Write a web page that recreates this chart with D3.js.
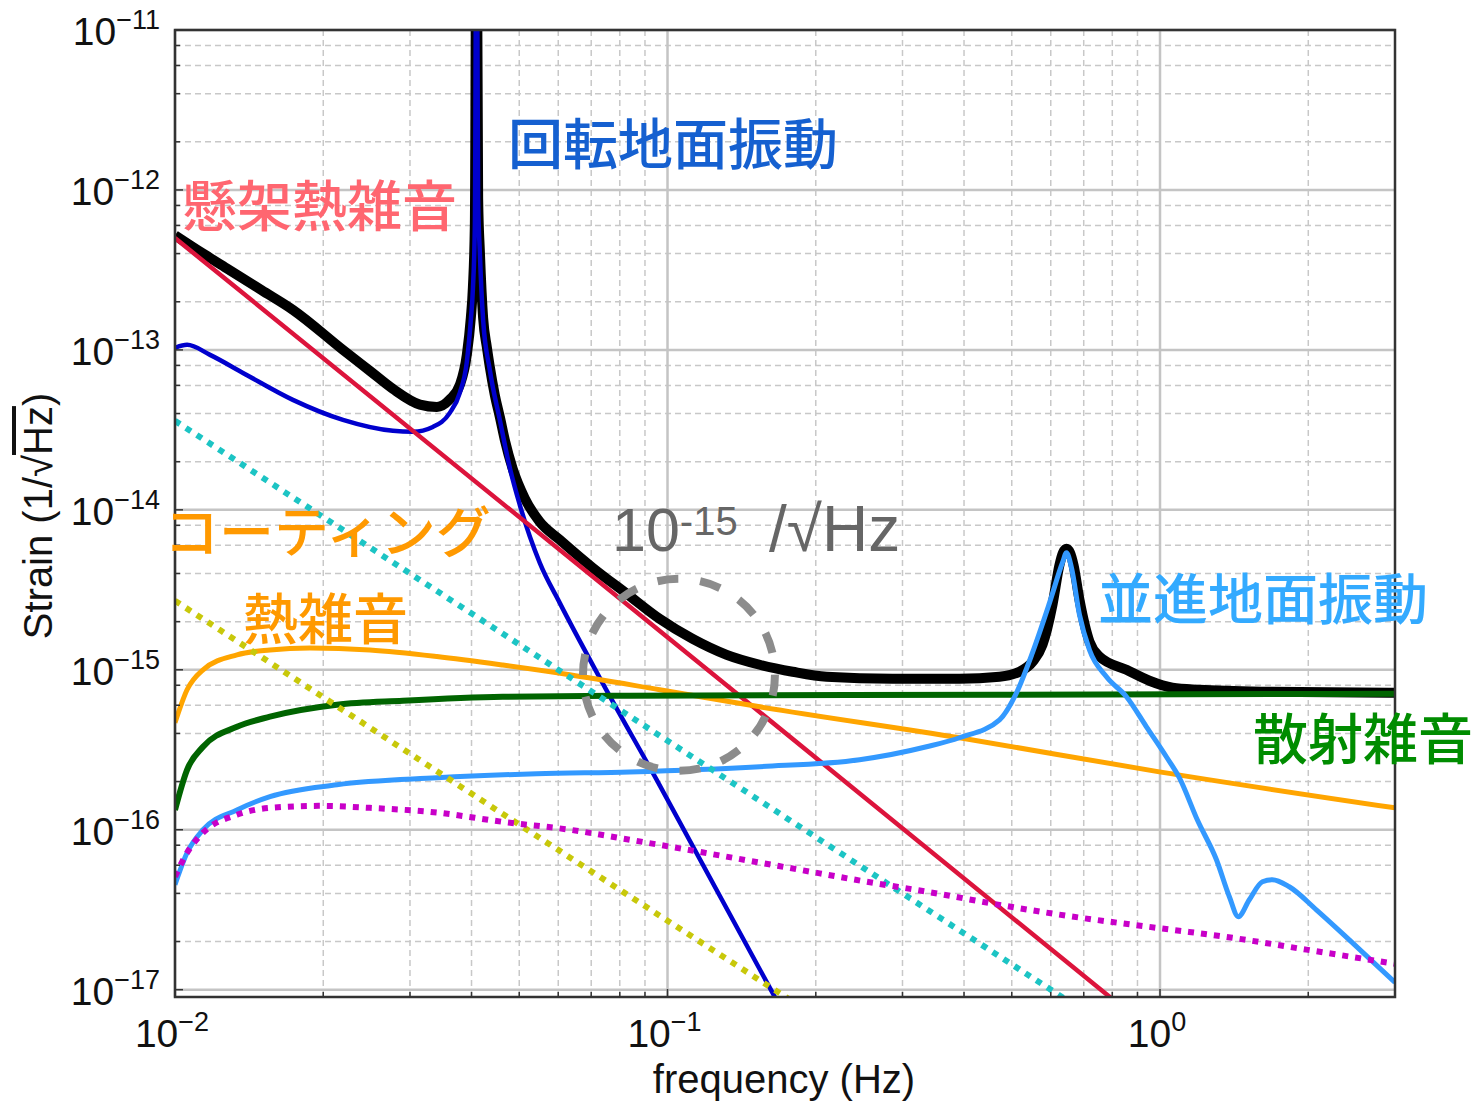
<!DOCTYPE html>
<html>
<head>
<meta charset="utf-8">
<script src="https://cdn.jsdelivr.net/npm/d3@7"></script>
<style>
body { margin: 0; background: #fff; }
svg text { font-family: "Liberation Sans", Arial, Helvetica, sans-serif; }
svg text.jp { font-family: "Noto Sans CJK JP", sans-serif; font-weight: 500; }
</style>
</head>
<body>
<div id="chart"></div>
<script>
// [frequency (Hz), strain (1/sqrt(Hz))]
var totalNoise = [
  [0.0100, 5.20e-13], [0.01140, 4.00e-13], [0.01275, 3.23e-13], [0.01500, 2.36e-13],
  [0.01735, 1.78e-13], [0.02193, 1.00e-13], [0.02500, 7.30e-14],
  [0.02770, 5.70e-14], [0.03142, 4.55e-14], [0.03402, 4.40e-14], [0.03614, 4.90e-14],
  [0.03787, 6.04e-14], [0.03913, 9.31e-14], [0.03987, 1.585e-13], [0.04025, 2.44e-13],
  [0.04063, 6.13e-13], [0.04095, 1e-10], [0.04126, 8.79e-13], [0.04159, 4.16e-13],
  [0.04223, 1.585e-13], [0.04297, 1.04e-13], [0.04357, 7.83e-14], [0.04460, 5.23e-14],
  [0.04566, 3.81e-14], [0.04673, 2.74e-14], [0.04851, 1.80e-14], [0.05131, 1.18e-14],
  [0.05504, 8.41e-15], [0.06042, 6.50e-15], [0.07050, 4.34e-15], [0.08263, 2.99e-15],
  [0.09643, 2.08e-15], [0.1125, 1.56e-15], [0.1319, 1.24e-15], [0.1539, 1.075e-15],
  [0.1795, 9.72e-16], [0.2104, 9.04e-16], [0.2864, 8.79e-16], [0.3916, 8.79e-16],
  [0.4722, 9.04e-16], [0.5184, 9.72e-16], [0.5509, 1.12e-15], [0.5772, 1.43e-15],
  [0.6049, 2.55e-15], [0.6250, 4.53e-15], [0.6353, 5.39e-15], [0.6458, 5.71e-15],
  [0.6565, 5.39e-15], [0.6673, 4.53e-15], [0.6862, 2.74e-15], [0.7191, 1.50e-15],
  [0.7534, 1.21e-15], [0.8548, 1.00e-15], [0.9516, 8.54e-16], [1.060, 7.72e-16],
  [1.202, 7.50e-16], [1.644, 7.29e-16], [3.0, 7.18e-16]
];
var rotGround = [
  [0.0100, 1.03e-13], [0.01058, 1.075e-13], [0.01178, 9.31e-14], [0.01374, 7.18e-14],
  [0.01735, 4.87e-14], [0.02193, 3.65e-14], [0.02770, 3.12e-14], [0.03041, 3.08e-14],
  [0.03338, 3.30e-14], [0.03614, 4.04e-14], [0.03787, 5.39e-14], [0.03913, 8.41e-14],
  [0.03987, 1.54e-13], [0.04025, 2.37e-13], [0.04063, 6.04e-13], [0.04095, 1e-10],
  [0.04126, 8.66e-13], [0.04159, 4.04e-13], [0.04223, 1.54e-13], [0.04357, 7.50e-14],
  [0.04566, 3.65e-14], [0.04784, 1.83e-14], [0.05012, 1.075e-14], [0.05504, 4.66e-15],
  [0.06042, 2.62e-15], [0.07284, 8.91e-16], [0.09508, 2.05e-16], [0.1650, 9.04e-18],
  [0.2, 3.0e-18]
];
var suspThermal = [[0.01, 5.0e-13], [0.1, 1.6e-15], [1.0, 5.0e-18]];
var coatingThermal = [
  [0.0100, 4.66e-16], [0.01058, 7.50e-16], [0.01140, 1.00e-15], [0.01336, 1.24e-15],
  [0.01559, 1.33e-15], [0.01879, 1.37e-15], [0.02487, 1.33e-15], [0.03402, 1.21e-15],
  [0.04630, 1.07e-15], [0.06331, 9.31e-16], [0.09643, 7.50e-16], [0.1539, 5.87e-16],
  [0.3916, 3.76e-16], [0.997, 2.30e-16], [3.0, 1.37e-16]
];
var scatterNoise = [
  [0.0100, 1.33e-16], [0.01058, 2.37e-16], [0.01140, 3.30e-16], [0.01336, 4.40e-16],
  [0.01559, 5.09e-16], [0.02132, 6.04e-16], [0.02902, 6.40e-16], [0.04630, 6.78e-16],
  [0.08380, 6.88e-16], [0.4722, 6.98e-16], [3.0, 7.08e-16]
];
var transGround = [
  [0.0100, 4.53e-17], [0.01058, 7.18e-17], [0.01140, 1.00e-16], [0.01336, 1.33e-16],
  [0.01559, 1.61e-16], [0.02132, 1.91e-16], [0.03402, 2.11e-16], [0.05427, 2.24e-16],
  [0.08380, 2.30e-16], [0.1539, 2.48e-16], [0.2455, 2.74e-16], [0.3357, 3.30e-16],
  [0.3916, 3.76e-16], [0.4722, 4.87e-16], [0.5112, 7.18e-16], [0.5509, 1.28e-15],
  [0.5965, 2.62e-15], [0.6338, 4.67e-15], [0.6458, 5.39e-15], [0.6611, 4.34e-15],
  [0.6862, 2.21e-15], [0.7191, 1.33e-15], [0.7785, 9.04e-16], [0.8548, 6.78e-16],
  [0.9385, 4.40e-16], [1.030, 2.86e-16], [1.095, 2.11e-16], [1.191, 1.15e-16],
  [1.302, 6.49e-17], [1.383, 3.81e-17], [1.442, 2.86e-17], [1.518, 3.65e-17],
  [1.614, 4.73e-17], [1.691, 4.87e-17], [1.830, 4.40e-17], [2.077, 3.16e-17],
  [2.423, 2.05e-17], [3.0, 1.11e-17]
];
var dottedCyan = [[0.01, 3.6e-14], [0.1, 3.6e-16], [1.0, 3.6e-18]];
var dottedYellow = [[0.01, 2.7e-15], [0.1, 2.7e-17], [0.2, 6.8e-18]];
var dottedMagenta = [
  [0.0100, 5.09e-17], [0.01058, 7.18e-17], [0.01140, 9.58e-17], [0.01336, 1.24e-16],
  [0.01559, 1.37e-16], [0.01969, 1.41e-16], [0.02487, 1.37e-16], [0.03402, 1.28e-16],
  [0.04630, 1.12e-16], [0.06331, 1.00e-16], [0.08380, 8.66e-17], [0.1356, 6.68e-17],
  [0.1855, 5.62e-17], [0.2537, 4.73e-17], [0.3452, 4.04e-17], [0.4722, 3.39e-17],
  [0.6458, 2.90e-17], [0.9516, 2.47e-17], [1.403, 2.11e-17], [1.982, 1.78e-17],
  [3.0, 1.45e-17]
];

var xTickExp = [-2, -1, 0];
var yTickExp = [-11, -12, -13, -14, -15, -16, -17];
var labelTexts = ["回転地面振動", "懸架熱雑音", "コーティング", "熱雑音", "並進地面振動", "散射雑音"];

var W = 1484, H = 1103;
var pL = 175, pT = 30, pR = 1395, pB = 997;

var svg = d3.select("div#chart")
  .append("svg")
  .attr("width", W)
  .attr("height", H);

var x = d3.scaleLog().domain([0.01, 3]).range([pL, pR]);
var y = d3.scaleLog().domain([9e-18, 1e-11]).range([pB, pT]);

// grid
var xMinor = [], xMajor = [0.01, 0.1, 1];
[0.01, 0.1, 1].forEach(function(dec) {
  for (var k = 2; k <= 9; k++) if (k * dec < 2.999) xMinor.push(k * dec);
});
var yMinor = [], yMajor = yTickExp.map(function(e) { return Math.pow(10, e); });
for (var e = -17; e <= -12; e++) {
  [2, 4, 6, 8].forEach(function(k) { yMinor.push(k * Math.pow(10, e)); });
}

var grid = svg.append("g");
grid.selectAll("line.xm").data(xMinor).enter().append("line")
  .attr("x1", d => x(d)).attr("x2", d => x(d))
  .attr("y1", pT).attr("y2", pB)
  .attr("stroke", "#c8c8c8").attr("stroke-width", 1.5).attr("stroke-dasharray", "6,4");
grid.selectAll("line.ym").data(yMinor).enter().append("line")
  .attr("x1", pL).attr("x2", pR)
  .attr("y1", d => y(d)).attr("y2", d => y(d))
  .attr("stroke", "#c8c8c8").attr("stroke-width", 1.5).attr("stroke-dasharray", "6,4");
grid.selectAll("line.xM").data(xMajor).enter().append("line")
  .attr("x1", d => x(d)).attr("x2", d => x(d))
  .attr("y1", pT).attr("y2", pB)
  .attr("stroke", "#c4c4c4").attr("stroke-width", 2.5);
grid.selectAll("line.yM").data(yMajor).enter().append("line")
  .attr("x1", pL).attr("x2", pR)
  .attr("y1", d => y(d)).attr("y2", d => y(d))
  .attr("stroke", "#c4c4c4").attr("stroke-width", 2.5);

// curves
svg.append("clipPath").attr("id", "plotclip")
  .append("rect").attr("x", pL).attr("y", pT)
  .attr("width", pR - pL).attr("height", pB - pT);

var line = d3.line()
  .x(d => x(d[0])).y(d => y(d[1]))
  .curve(d3.curveMonotoneX);

var curves = svg.append("g").attr("clip-path", "url(#plotclip)");
function draw(data, color, w, dash) {
  var p = curves.append("path").datum(data)
    .attr("d", line)
    .attr("fill", "none")
    .attr("stroke", color)
    .attr("stroke-width", w)
    .attr("stroke-linejoin", "round");
  if (dash) p.attr("stroke-dasharray", dash);
  return p;
}
draw(totalNoise, "#000", 10);
draw(rotGround, "#0000cd", 4.5);
draw(suspThermal, "#dc143c", 4.5);
draw(coatingThermal, "#ffa500", 5);
draw(scatterNoise, "#006400", 6);
draw(transGround, "#3399ff", 5);
draw(dottedCyan, "#1cc4c4", 6, "6,7");
draw(dottedYellow, "#c8c80a", 6, "6,7");
draw(dottedMagenta, "#c800c8", 6, "6,7");

// box + ticks
var axis = svg.append("g");
axis.append("rect").attr("x", pL).attr("y", pT)
  .attr("width", pR - pL).attr("height", pB - pT)
  .attr("fill", "none").attr("stroke", "#333").attr("stroke-width", 2.5);
axis.selectAll("line.xt").data(xMajor.concat(xMinor)).enter().append("line")
  .attr("x1", d => x(d)).attr("x2", d => x(d))
  .attr("y1", pB).attr("y2", d => pB - (xMajor.indexOf(d) >= 0 ? 8 : 5))
  .attr("stroke", "#333").attr("stroke-width", 1.5);
axis.selectAll("line.yt").data(yMajor.concat(yMinor)).enter().append("line")
  .attr("x1", pL).attr("x2", d => pL + (yMajor.indexOf(d) >= 0 ? 8 : 5))
  .attr("y1", d => y(d)).attr("y2", d => y(d))
  .attr("stroke", "#333").attr("stroke-width", 1.5);

// tick labels
var yt = axis.selectAll("text.yl").data(yTickExp).enter().append("text")
  .attr("x", 160).attr("y", d => y(Math.pow(10, d)) + 15)
  .attr("text-anchor", "end").attr("fill", "#111");
yt.append("tspan").attr("font-size", 39).text("10");
yt.append("tspan").attr("font-size", 27).attr("dy", -16).text(d => "\u2212" + Math.abs(d));

var xt = axis.selectAll("text.xl").data(xTickExp).enter().append("text")
  .attr("x", d => x(Math.pow(10, d)) - 3).attr("y", 1047)
  .attr("text-anchor", "middle").attr("fill", "#111");
xt.append("tspan").attr("font-size", 39).text("10");
xt.append("tspan").attr("font-size", 27).attr("dy", -16)
  .text(d => (d < 0 ? "\u2212" + Math.abs(d) : "" + d));

// axis titles
svg.append("text").attr("x", 784).attr("y", 1093)
  .attr("text-anchor", "middle").attr("font-size", 40).attr("fill", "#111")
  .text("frequency (Hz)");
var yTitle = svg.append("text")
  .attr("transform", "translate(52,516) rotate(-90)")
  .attr("text-anchor", "middle").attr("font-size", 40).attr("fill", "#111");
yTitle.append("tspan").text("Strain (1/\u221A");
yTitle.append("tspan").style("text-decoration", "overline").text("Hz");
yTitle.append("tspan").text(")");

// labels
var labelColors = ["#1560d0", "#ff6670", "#ff9900", "#ff9900", "#33aaff", "#008c00"];
var labelPos = [[508, 140], [182, 202], [164, 528], [243, 615], [1098, 595], [1253, 735]];
svg.selectAll("text.jp").data(labelTexts).enter().append("text")
  .attr("class", "jp")
  .attr("x", (d, i) => labelPos[i][0]).attr("y", (d, i) => labelPos[i][1])
  .attr("dominant-baseline", "central")
  .attr("font-size", 55)
  .attr("fill", (d, i) => labelColors[i])
  .text(d => d);

// 10^-15 annotation
var ann = svg.append("text").attr("x", 612).attr("y", 551).attr("fill", "#666");
ann.append("tspan").attr("font-size", 61).text("10");
ann.append("tspan").attr("font-size", 40).attr("dy", -16).text("-15");
ann.append("tspan").attr("font-size", 64).attr("x", 769).attr("dy", 16).text("/\u221AHz");

svg.append("circle")
  .attr("cx", x(0.1055)).attr("cy", y(9.3e-16)).attr("r", 96)
  .attr("fill", "none").attr("stroke", "#8c8c8c")
  .attr("stroke-width", 8).attr("stroke-dasharray", "21,22");
</script>
</body>
</html>
